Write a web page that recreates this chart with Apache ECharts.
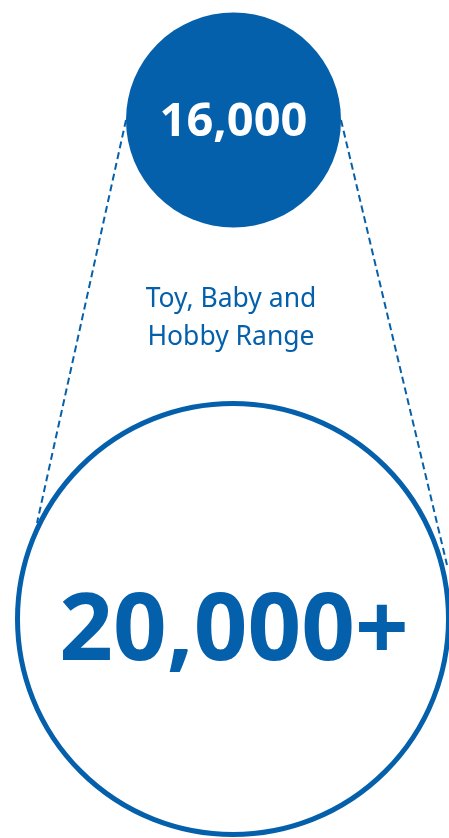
<!DOCTYPE html>
<html>
<head>
<meta charset="utf-8">
<title>Range size</title>
<script src="https://cdn.jsdelivr.net/npm/echarts@6/dist/echarts.min.js"></script>
<style>
  html, body { margin: 0; padding: 0; background: #ffffff; }
  #chart { width: 449px; height: 838px; }
</style>
</head>
<body>
<div id="chart"></div>
<script>
// Figures shown in the two circles, and the caption between them
const figureLabels = ['16,000', '20,000+'];
const captionLines = ['Toy, Baby and', 'Hobby Range'];

// Layout (axis units map 1:1 to pixels on the hidden value axes)
const BLUE = '#0560AC';
const small = { cx: 233.5, cy: 120, r: 107.5 };
const big = { cx: 233, cy: 619, r: 215.5 };

// Ends of the two dashed guides: from the sides of the small circle down to the ring
const leftGuide = [
  [small.cx - small.r, small.cy],
  [37, 523]
];
const rightGuide = [
  [small.cx + small.r, small.cy],
  [447, 565]
];

const chart = echarts.init(document.getElementById('chart'), null, { renderer: 'canvas' });

const dashed = {
  type: 'line',
  symbol: 'none',
  silent: true,
  lineStyle: { color: BLUE, width: 2, type: [7, 4], opacity: 1 },
  z: 1
};

chart.setOption({
  animation: false,
  backgroundColor: '#ffffff',
  grid: { left: 0, right: 0, top: 0, bottom: 0, containLabel: false },
  xAxis: { type: 'value', min: 0, max: 449, show: false },
  yAxis: { type: 'value', min: 0, max: 838, inverse: true, show: false },
  title: {
    text: captionLines.join('\n'),
    left: 226,
    top: 275,
    textAlign: 'center',
    textStyle: {
      fontFamily: 'Noto Sans',
      fontSize: 26.5,
      fontWeight: 'normal',
      lineHeight: 38,
      color: BLUE
    }
  },
  series: [
    Object.assign({ data: leftGuide }, dashed),
    Object.assign({ data: rightGuide }, dashed),
    {
      type: 'scatter',
      silent: true,
      clip: false,
      z: 3,
      itemStyle: { opacity: 1 },
      data: [
        {
          value: [small.cx, small.cy],
          symbolSize: small.r * 2,
          itemStyle: { color: BLUE, opacity: 1 },
          label: {
            show: true,
            position: 'inside',
            formatter: figureLabels[0],
            fontFamily: 'Noto Sans',
            fontWeight: 'bold',
            fontSize: 47,
            color: '#ffffff',
            opacity: 1,
            offset: [0, 3]
          }
        },
        {
          value: [big.cx, big.cy],
          symbolSize: big.r * 2,
          itemStyle: { color: '#ffffff', borderColor: BLUE, borderWidth: 5, opacity: 1 },
          label: {
            show: true,
            position: 'inside',
            formatter: figureLabels[1],
            fontFamily: 'Noto Sans',
            fontWeight: 'bold',
            fontSize: 94,
            color: BLUE,
            opacity: 1,
            offset: [1, 14]
          }
        }
      ]
    }
  ]
});
</script>
</body>
</html>
